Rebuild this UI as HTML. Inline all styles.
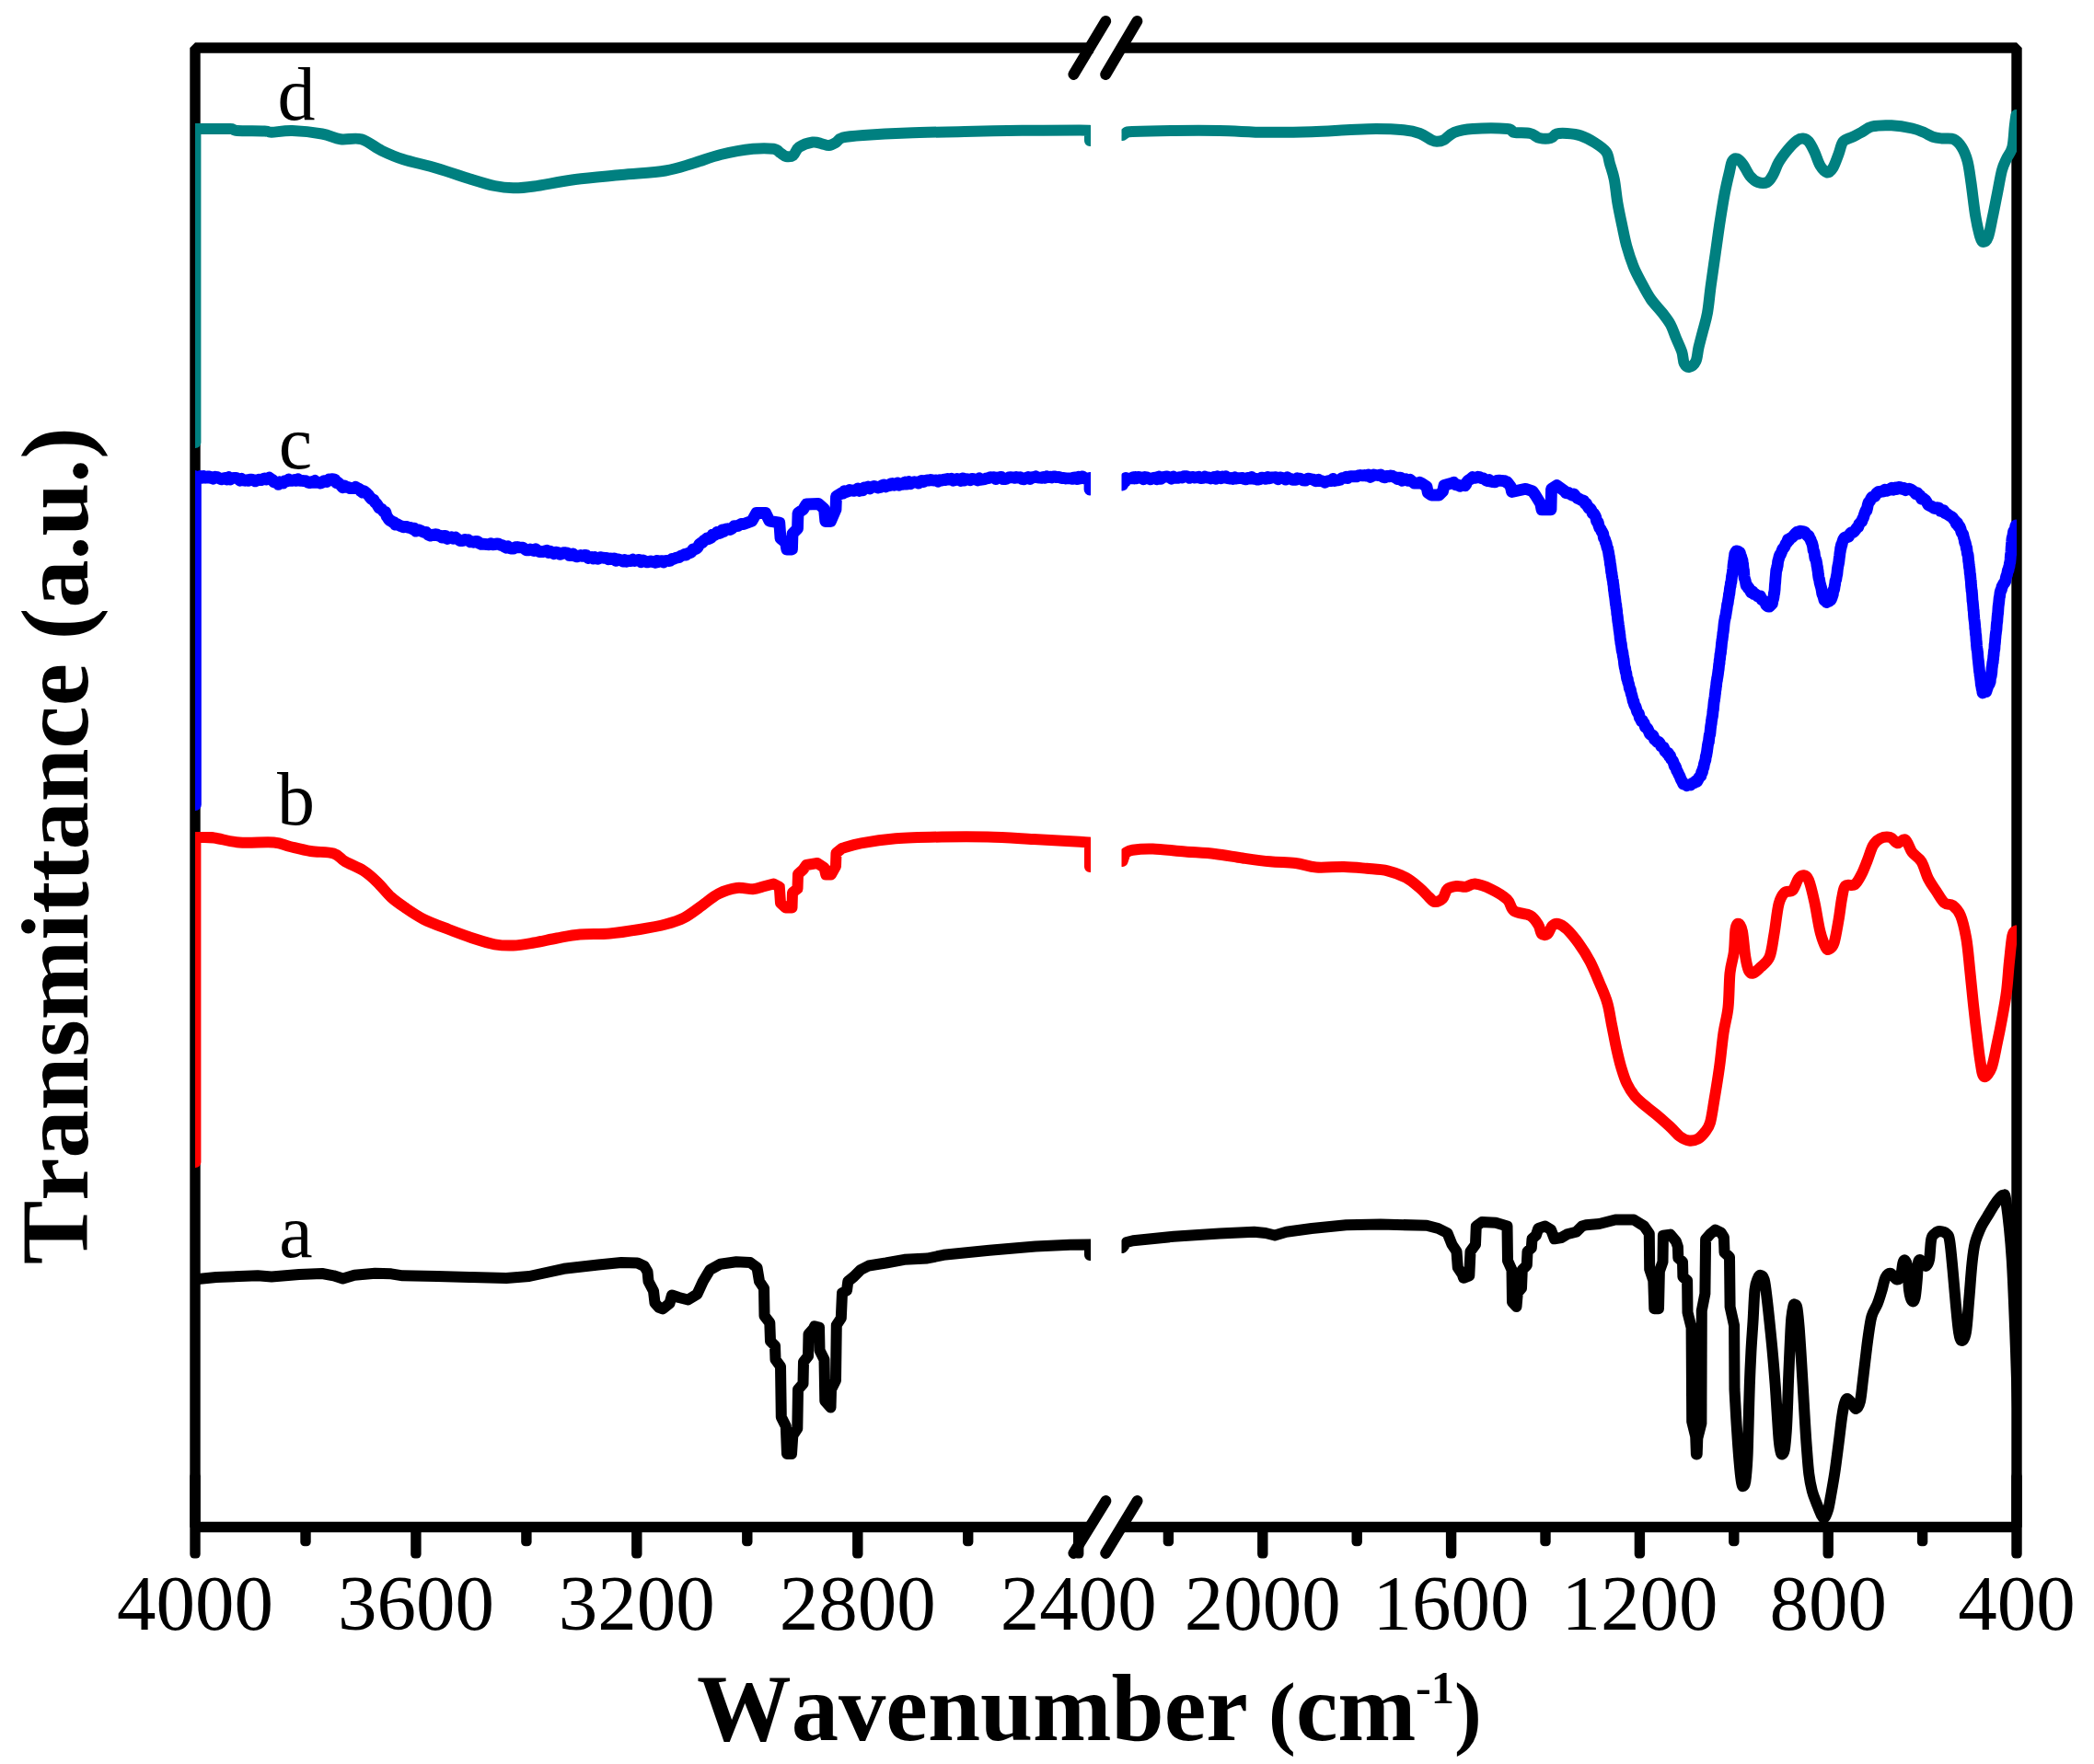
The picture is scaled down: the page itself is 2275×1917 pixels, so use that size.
<!DOCTYPE html>
<html lang="en"><head><meta charset="utf-8"><title>FTIR spectra</title>
<style>html,body{margin:0;padding:0;background:#fff}body{width:2275px;height:1917px;overflow:hidden}svg{display:block}</style>
</head><body>
<svg width="2275" height="1917" viewBox="0 0 2275 1917">
<defs>
<clipPath id="cl"><rect x="212.0" y="0" width="973.0" height="1917"/></clipPath>
<clipPath id="cr"><rect x="1218.5" y="0" width="972.5" height="1917"/></clipPath>
</defs>
<rect width="2275" height="1917" fill="#ffffff"/>
<g fill="none" stroke="#000" stroke-width="11.4" stroke-linecap="butt" stroke-linejoin="bevel">
<path d="M1188 52.0 L212.0 52.0 L212.0 1659.5 L1184 1659.5"/>
<path d="M1216 52.0 L2191.0 52.0 L2191.0 1659.5 L1218 1659.5"/>
</g>
<g fill="#000"><rect x="206.3" y="1600" width="11.4" height="93.6" rx="4.5" ry="4.5"/><rect x="446.2" y="1655.3" width="11.4" height="38.3" rx="4.5" ry="4.5"/><rect x="686.1" y="1655.3" width="11.4" height="38.3" rx="4.5" ry="4.5"/><rect x="926.1" y="1655.3" width="11.4" height="38.3" rx="4.5" ry="4.5"/><rect x="1166" y="1655.3" width="11.4" height="38.3" rx="4.5" ry="4.5"/><rect x="326.3" y="1655.3" width="11.4" height="24.9" rx="4.5" ry="4.5"/><rect x="566.2" y="1655.3" width="11.4" height="24.9" rx="4.5" ry="4.5"/><rect x="806.1" y="1655.3" width="11.4" height="24.9" rx="4.5" ry="4.5"/><rect x="1046" y="1655.3" width="11.4" height="24.9" rx="4.5" ry="4.5"/><rect x="1366.1" y="1655.3" width="11.4" height="38.3" rx="4.5" ry="4.5"/><rect x="1570.9" y="1655.3" width="11.4" height="38.3" rx="4.5" ry="4.5"/><rect x="1775.7" y="1655.3" width="11.4" height="38.3" rx="4.5" ry="4.5"/><rect x="1980.5" y="1655.3" width="11.4" height="38.3" rx="4.5" ry="4.5"/><rect x="2185.3" y="1600" width="11.4" height="93.6" rx="4.5" ry="4.5"/><rect x="1263.7" y="1655.3" width="11.4" height="24.9" rx="4.5" ry="4.5"/><rect x="1468.5" y="1655.3" width="11.4" height="24.9" rx="4.5" ry="4.5"/><rect x="1673.3" y="1655.3" width="11.4" height="24.9" rx="4.5" ry="4.5"/><rect x="1878.1" y="1655.3" width="11.4" height="24.9" rx="4.5" ry="4.5"/><rect x="2082.9" y="1655.3" width="11.4" height="24.9" rx="4.5" ry="4.5"/></g>
<g fill="none" stroke="#000000" stroke-width="12.0" stroke-linejoin="round" stroke-linecap="round"><path d="M208 1391 L215 1390 L235 1388 L280 1386.3 L295 1387.5 L325 1385 L350 1384 L362.5 1386.3 L372.5 1389.5 L385 1385.8 L407.5 1383.8 L425 1384.3 L437.5 1386.3 L475 1387 L512.5 1388 L550 1389 L575 1387 L612.5 1378.8 L650 1374.5 L675 1372 L692.5 1372.5 L700 1376 L703.5 1382 L704.5 1392.5 L710 1403 L711.5 1416 L716 1421 L720 1422.5 L727.5 1416.3 L730 1407.5 L737.5 1410 L747.5 1412.5 L757.5 1406.3 L763.8 1392.5 L771.3 1380 L782.5 1373.8 L800 1371.3 L815 1372 L822.5 1377.5 L825 1392.5 L830 1400 L830.5 1430 L836.3 1437.5 L837 1457.5 L842 1462.5 L842.5 1477.5 L848 1485 L848.8 1540 L853.8 1550 L855 1580 L860 1580 L861.3 1560 L866.3 1552.5 L867 1510 L872.5 1503.8 L873 1480 L878 1473.8 L878.5 1450 L883.8 1443.8 L885 1441.3 L890 1442.5 L890.5 1467.5 L895.5 1477.5 L896.3 1522.5 L902.5 1529.5 L903 1510 L908 1500 L908.8 1440 L913.8 1432.5 L915 1405 L920 1402.5 L921.3 1392.5 L927.5 1387.5 L935 1380 L943.8 1375.5 L962.5 1372.5 L982.5 1368.8 L1007.5 1367.5 L1025 1363.8 L1075 1358.8 L1125 1354.5 L1162.5 1352.8 L1184 1352.4 L1184 1364" clip-path="url(#cl)"/><path d="M1219.5 1356 L1224 1350 L1231 1348.2 L1275 1343.8 L1325 1340.5 L1362.5 1338.8 L1375 1340 L1385 1342.5 L1397.5 1338.8 L1425 1335 L1462.5 1331.3 L1500 1330.5 L1550 1331.8 L1562.5 1335 L1572.5 1340 L1577.5 1352.5 L1582.5 1360 L1583.8 1377.5 L1588.8 1385 L1590 1388.8 L1596.3 1386.3 L1597.5 1360 L1603 1352.5 L1603.8 1332.5 L1610 1328 L1625 1328.8 L1637.5 1332.5 L1638 1370 L1642.5 1380 L1643 1415 L1647.5 1420 L1648.8 1405 L1653 1400 L1653.8 1380 L1658.8 1375 L1659.5 1360 L1663.8 1356.3 L1664.5 1346.3 L1668.8 1342.5 L1671.3 1335 L1678.8 1332.5 L1685 1336.3 L1688.8 1346.3 L1696.3 1345 L1702.5 1341.3 L1712.5 1338.8 L1718.8 1332.5 L1723 1331.3 L1737.5 1330 L1755 1325.5 L1775 1325.5 L1786.1 1332.4 L1791.8 1340.6 L1792.2 1379.4 L1796.3 1391.6 L1797.3 1422.2 L1802 1422.2 L1802.9 1381.4 L1806.5 1371.2 L1806.9 1342.7 L1814.7 1341.6 L1820.8 1348.8 L1822.9 1354.9 L1823.3 1367.1 L1828 1371.2 L1828.4 1387.6 L1833.1 1391.6 L1833.5 1426.3 L1837.6 1442.7 L1838.2 1544.7 L1842.2 1561 L1842.9 1580.4 L1843.7 1580.4 L1844.3 1563 L1848.4 1546.7 L1848.8 1424.3 L1852.4 1405.9 L1853.1 1346.7 L1858.6 1340.6 L1863.7 1336.5 L1869.8 1339.6 L1872.9 1344.7 L1873.5 1361 L1879 1366.1 L1879.6 1420.2 L1884.1 1440.6 L1884.5 1510C1884.9 1517.5 1886.1 1540.6 1887.1 1554.9C1888 1569.2 1889.3 1586.2 1890.2 1595.7C1891.1 1605.2 1891.6 1608.8 1892.2 1612C1892.8 1615.2 1893.2 1615.4 1893.9 1615.1C1894.6 1614.8 1895.5 1614.9 1896.3 1610C1897 1605.1 1897.9 1594.7 1898.4 1585.5C1898.9 1576.3 1899 1568.2 1899.4 1554.9C1899.8 1541.6 1900.3 1520.2 1900.8 1505.9C1901.3 1491.6 1901.8 1480.8 1902.4 1469.2C1903 1457.6 1903.8 1447.7 1904.5 1436.5C1905.2 1425.3 1905.7 1409.6 1906.5 1401.8C1907.3 1394 1908.6 1392.2 1909.6 1389.6C1910.6 1386.9 1911.5 1385.7 1912.7 1385.9C1913.9 1386.1 1915.5 1386.2 1916.7 1390.6C1917.9 1394.9 1918.8 1403.7 1919.8 1412C1920.8 1420.3 1921.9 1430.7 1922.9 1440.6C1923.9 1450.5 1925 1460.7 1925.9 1471.2C1926.9 1481.8 1927.8 1493.4 1928.6 1503.9C1929.4 1514.5 1929.9 1524.3 1930.6 1534.5C1931.3 1544.7 1932 1558 1932.7 1565.1C1933.4 1572.2 1933.9 1574.8 1934.5 1577.3C1935.1 1579.8 1935.4 1580.7 1936.1 1580.4C1936.8 1580.1 1938 1579.5 1938.8 1575.3C1939.6 1571 1940.2 1563.4 1940.8 1554.9C1941.4 1546.4 1941.8 1534.5 1942.2 1524.3C1942.6 1514.1 1942.8 1504.9 1943.3 1493.7C1943.8 1482.5 1944.4 1467.1 1944.9 1456.9C1945.4 1446.7 1945.7 1438.7 1946.3 1432.4C1946.9 1426.1 1947.8 1421.7 1948.4 1419.2C1949 1416.7 1949.1 1417.3 1949.8 1417.6C1950.5 1417.9 1951.6 1417.4 1952.4 1421.2C1953.2 1425 1953.8 1432.6 1954.5 1440.6C1955.2 1448.6 1955.8 1458.7 1956.5 1469.2C1957.2 1479.8 1957.9 1492.3 1958.6 1503.9C1959.3 1515.5 1959.9 1527.4 1960.6 1538.6C1961.3 1549.8 1961.9 1560.7 1962.7 1571.2C1963.5 1581.7 1964.3 1593.6 1965.3 1601.8C1966.3 1610 1967.4 1614.8 1968.8 1620.2C1970.2 1625.7 1972.2 1630.1 1973.9 1634.5C1975.6 1638.9 1977.6 1644.2 1979 1646.7C1980.4 1649.2 1981 1650.5 1982.2 1649.5C1983.4 1648.5 1985 1644.3 1986.1 1640.6C1987.2 1636.9 1987.6 1633.8 1988.8 1627.1C1990 1620.4 1991.8 1610.5 1993.3 1600.6C1994.8 1590.6 1996.4 1577.4 1997.7 1567.4C1999 1557.5 2000 1547.9 2001 1540.9C2002 1533.9 2002.9 1528.9 2003.9 1525.4C2004.9 1521.9 2005.6 1519.9 2007 1519.9C2008.4 1519.9 2010.5 1523.6 2012.1 1525.4C2013.7 1527.2 2015 1531.3 2016.5 1530.9C2018 1530.5 2019.7 1528.2 2020.9 1523.2C2022.1 1518.2 2022.9 1508.5 2023.8 1501.1C2024.7 1493.7 2025.4 1487.1 2026.4 1479C2027.4 1470.9 2028.5 1460.6 2029.7 1452.5C2030.9 1444.4 2031.8 1436.2 2033.5 1430.3C2035.2 1424.4 2037.9 1421.5 2039.7 1417.1C2041.5 1412.7 2042.6 1408.6 2044.1 1403.8C2045.6 1399 2046.8 1391.6 2048.5 1388.3C2050.2 1385 2052.1 1383.5 2054.1 1383.9C2056.1 1384.3 2058.9 1390.1 2060.7 1390.5C2062.5 1390.9 2064 1389 2065.1 1386.1C2066.2 1383.2 2066.6 1375.7 2067.3 1372.9C2068 1370.1 2068.7 1368.8 2069.5 1369.5C2070.3 1370.2 2071.7 1372 2072.4 1377.3C2073.2 1382.6 2073.2 1395.5 2074 1401.6C2074.8 1407.7 2076.2 1412.3 2077.3 1413.8C2078.4 1415.3 2079.7 1414.3 2080.6 1410.4C2081.5 1406.5 2082.2 1396.8 2082.8 1390.5C2083.4 1384.2 2083.4 1376.5 2083.9 1372.9C2084.4 1369.3 2085.2 1368.9 2086.1 1369.1C2087 1369.3 2088.3 1372.9 2089.4 1374C2090.5 1375.1 2091.7 1376.4 2092.8 1375.5C2093.9 1374.6 2095.2 1373.3 2096.1 1368.4C2097 1363.5 2097.2 1351 2098.3 1346.3C2099.4 1341.6 2101.2 1341.5 2102.7 1340.1C2104.2 1338.7 2105.1 1338 2107.1 1338.1C2109.1 1338.2 2113.1 1339.1 2114.9 1340.8C2116.8 1342.5 2117.1 1342 2118.2 1348.5C2119.3 1355 2120.4 1368.1 2121.5 1379.5C2122.6 1390.9 2123.7 1405.7 2124.8 1417.1C2125.9 1428.5 2127 1441.4 2128.1 1448C2129.2 1454.6 2130.1 1456.9 2131.4 1456.9C2132.7 1456.9 2134.6 1455.4 2135.9 1448C2137.2 1440.6 2138.1 1425.2 2139.2 1412.7C2140.3 1400.2 2141.4 1383.2 2142.5 1372.9C2143.6 1362.6 2144.1 1357.4 2145.8 1350.8C2147.5 1344.2 2150.3 1337.9 2152.5 1333.1C2154.7 1328.3 2156.9 1325.7 2159.1 1322C2161.3 1318.3 2163.7 1314.1 2165.7 1311C2167.7 1307.9 2169.4 1305.2 2171.2 1303.2C2173 1301.2 2174.9 1298.3 2176.3 1298.8C2177.7 1299.3 2177.9 1294.5 2179.5 1306C2181.1 1317.5 2183.9 1341 2185.7 1368C2187.4 1395 2188.6 1429.3 2190 1468C2191.4 1506.7 2193 1564.7 2194 1600C2195 1635.3 2195.7 1666.7 2196 1680" clip-path="url(#cr)"/></g><g fill="none" stroke="#ff0000" stroke-width="12.0" stroke-linejoin="round" stroke-linecap="round"><path d="M212.4 1263 L212.4 910 L230 910" clip-path="url(#cl)" /><path d="M205 910C206.7 910 210.4 909.9 215 910C219.6 910.1 225 909.6 232.5 910.5C240 911.4 249.2 914.7 260 915.5C270.8 916.3 288.3 914.8 297.5 915.5C306.7 916.2 308.3 918.4 315 920C321.7 921.6 329.6 923.8 337.5 925C345.4 926.2 356.2 925.6 362.5 927.5C368.8 929.4 369.6 933.2 375 936.3C380.4 939.4 389.2 942.5 395 946.3C400.8 950 405 954 410 958.8C415 963.6 420 970.4 425 975C430 979.6 434.2 982.3 440 986.3C445.8 990.3 452.1 994.8 460 998.8C467.9 1002.8 478.3 1006.5 487.5 1010C496.7 1013.5 506.7 1017.3 515 1020C523.3 1022.7 530.4 1025 537.5 1026.3C544.6 1027.5 550.4 1027.8 557.5 1027.5C564.6 1027.2 572.1 1025.8 580 1024.5C587.9 1023.2 596.7 1021 605 1019.5C613.3 1018 620.4 1016.3 630 1015.5C639.6 1014.7 651.7 1015.4 662.5 1014.5C673.3 1013.6 684.9 1011.7 695 1010C705.1 1008.3 715 1006.6 723 1004.5C731 1002.4 736.3 1001 743 997.5C749.7 994 756.8 988.2 763 983.8C769.2 979.4 774.2 974.4 780.5 971.3C786.8 968.2 794.2 965.8 800.5 965C806.8 964.2 813.4 966.5 818 966.3C822.6 966.1 826.3 964.2 828 963.8L840.5 960.5L846.8 963.8L848 981.3L853.5 986.5L860.5 986.5L861 970L866.5 965.8L867 950L872.5 945L876 940L888 938L895.5 943L897.3 950.5L903 950.5L908 941.3L908.5 927L915 921.8C918.4 920.9 925.8 918 935.5 916.3C945.2 914.5 958.4 912.4 973 911.3C987.6 910.2 1006.3 909.8 1023 909.5C1039.7 909.2 1056.3 909.1 1073 909.5C1089.7 909.9 1106.3 911.1 1123 912C1139.7 912.9 1162.8 914.2 1173 914.8C1183.2 915.4 1182.2 915.5 1184 915.6C1184 920 1184 937.6 1184 942" clip-path="url(#cl)"/><path d="M1219.5 936C1220 934.5 1222 928.5 1222.5 927C1223.8 926.5 1225.5 924.5 1230.5 923.8C1235.5 923 1243 922.2 1252.5 922.5C1262 922.8 1276.2 924.6 1287.5 925.5C1298.8 926.4 1309.6 926.8 1320 928C1330.4 929.2 1340 931.1 1350 932.5C1360 933.9 1370.4 935.4 1380 936.3C1389.6 937.2 1399.2 937 1407.5 938C1415.8 939 1421.2 941.8 1430 942.5C1438.8 943.2 1450.8 941.8 1460 942C1469.2 942.2 1477.1 943.1 1485 943.8C1492.9 944.5 1500.4 944.6 1507.5 946.3C1514.6 948 1521.7 950.7 1527.5 953.8C1533.3 956.9 1538.3 961.5 1542.5 965C1546.7 968.5 1549.8 972.5 1552.5 975C1555.2 977.5 1556.3 979.8 1558.8 980C1561.3 980.2 1565.2 978.6 1567.5 976.3C1569.8 974 1570 968.5 1572.5 966.3C1575 964.1 1579.2 963.4 1582.5 963C1585.8 962.6 1589.2 964.2 1592.5 963.8C1595.8 963.4 1597.9 960.1 1602.5 960.5C1607.1 960.9 1614.2 963.5 1620 966.3C1625.8 969.1 1633.3 973.5 1637.5 977.5C1641.7 981.5 1640.8 987.1 1645 990C1649.2 992.9 1658.1 992.5 1662.5 995C1666.9 997.5 1669.2 1001.7 1671.3 1005C1673.4 1008.3 1673.3 1013.3 1675 1015C1676.7 1016.7 1679.4 1016.5 1681.3 1015C1683.2 1013.5 1684.4 1008.2 1686.3 1006.3C1688.2 1004.4 1689.8 1003.2 1692.5 1003.8C1695.2 1004.4 1698.8 1006.5 1702.5 1010C1706.2 1013.5 1710.8 1019.2 1715 1025C1719.2 1030.8 1723.8 1037.9 1727.5 1045C1731.2 1052.1 1734.4 1060 1737.5 1067.5C1740.6 1075 1744 1082.1 1746.3 1090C1748.6 1097.9 1749.6 1106.7 1751.3 1115C1753 1123.3 1754.6 1132.5 1756.3 1140C1758 1147.5 1759.4 1153.8 1761.3 1160C1763.2 1166.2 1765 1172.3 1767.5 1177.5C1770 1182.7 1772.5 1186.9 1776.3 1191.3C1780 1195.7 1785.6 1200 1790 1203.8C1794.4 1207.5 1798.3 1210.3 1802.5 1213.8C1806.7 1217.3 1811.2 1221.5 1815 1225C1818.8 1228.5 1821.7 1232.6 1825 1235C1828.3 1237.4 1831.7 1239.1 1835 1239.5C1838.3 1239.9 1842.1 1239.1 1845 1237.5C1847.9 1235.9 1850.3 1232.9 1852.5 1230C1854.7 1227.1 1856.3 1225.8 1858 1220C1859.7 1214.2 1860.8 1205 1862.5 1195C1864.2 1185 1866.3 1172.1 1868 1160C1869.7 1147.9 1870.9 1133.3 1872.5 1122.5C1874.1 1111.7 1876.3 1105.8 1877.5 1095C1878.7 1084.2 1878.5 1067.5 1879.5 1057.5C1880.5 1047.5 1882.8 1042.9 1883.8 1035C1884.8 1027.1 1884.7 1015.2 1885.5 1010C1886.3 1004.8 1887.5 1003.4 1888.8 1003.8C1890 1004.2 1891.8 1006.5 1893 1012.5C1894.2 1018.5 1895.1 1032.9 1896.3 1040C1897.5 1047.1 1898.5 1052.1 1900 1055C1901.5 1057.9 1902.9 1058.1 1905 1057.5C1907.1 1056.9 1909.6 1054.2 1912.5 1051.3C1915.4 1048.4 1920 1046 1922.5 1040C1925 1034 1925.8 1024.6 1927.5 1015C1929.2 1005.4 1930.6 990 1932.5 982.5C1934.4 975 1936.3 972.5 1938.8 970C1941.3 967.5 1945 970 1947.5 967.5C1950 965 1951.8 957.7 1953.8 955C1955.8 952.3 1957.6 951.1 1959.5 951.3C1961.4 951.5 1963 951.5 1965 956.3C1967 961.1 1969.2 970.6 1971.3 980C1973.4 989.4 1975.4 1004.2 1977.5 1012.5C1979.6 1020.8 1982.1 1026.9 1983.8 1030C1985.5 1033.1 1986 1032.1 1987.5 1031.3C1989 1030.5 1990.8 1030.2 1992.5 1025C1994.2 1019.8 1996 1008.3 1997.5 1000C1999 991.7 2000 981.2 2001.3 975C2002.5 968.8 2002.7 964.8 2005 962.5C2007.3 960.2 2012.1 963.4 2015 961.3C2017.9 959.2 2020.2 954.4 2022.5 950C2024.8 945.6 2026.7 940.2 2028.8 935C2030.9 929.8 2032.7 922.8 2035 918.8C2037.3 914.8 2039.4 912.8 2042.5 911.3C2045.6 909.8 2050.7 909.2 2053.8 910C2056.9 910.8 2058.6 915.9 2061.3 916.3C2064 916.7 2067.3 910.8 2070 912.5C2072.7 914.2 2074.6 922.3 2077.5 926.3C2080.4 930.3 2084.6 931.5 2087.5 936.3C2090.4 941.1 2092.3 949.6 2095 955C2097.7 960.4 2100.9 964.4 2103.8 968.8C2106.7 973.2 2109.6 978.8 2112.5 981.3C2115.4 983.8 2118.4 981.5 2121.3 983.8C2124.2 986.1 2127.5 989 2130 995C2132.5 1001 2134.6 1010.4 2136.3 1020C2138 1029.6 2138.8 1040.8 2140 1052.5C2141.2 1064.2 2142.6 1078.3 2143.8 1090C2145.1 1101.7 2146.2 1112.1 2147.5 1122.5C2148.8 1132.9 2150 1144.6 2151.3 1152.5C2152.6 1160.4 2153.4 1168.8 2155.5 1170C2157.6 1171.2 2161.4 1166.2 2163.8 1160C2166.2 1153.8 2168.1 1141.2 2170 1132.5C2171.9 1123.8 2173.3 1116.7 2175 1107.5C2176.7 1098.3 2178.7 1087.9 2180 1077.5C2181.3 1067.1 2181.9 1055.1 2183 1045C2184.1 1034.9 2185.1 1022.6 2186.3 1017C2187.5 1011.4 2189.6 1012.4 2190.3 1011.5" clip-path="url(#cr)"/></g><g fill="none" stroke="#0000ff" stroke-width="12.8" stroke-linejoin="round" stroke-linecap="round"><path d="M212.4 874.5 L212.4 519 L230 519" clip-path="url(#cl)" /><path d="M205 518.8L206 518.3L207.1 517.7L208.7 519.2L211.2 517.4L215 518.9L216.3 518.4L217.8 517.5L219.5 518.9L221.3 517.6L223.2 518.8L225.2 517.8L227.3 517.9L229.4 519L231.6 520.2L233.8 518.2L236 518.6L238.1 519.8L240.3 520.9L242.4 519.9L244.5 519.4L246.4 521.2L248.3 518.5L250 521.1L252.3 519.5L254.5 519.3L256.6 519.4L258.7 520.3L260.7 522L262.6 520.4L264.5 521.9L266.4 522.3L268.2 521.7L269.9 522.4L271.7 521.1L273.4 521.1L275 521.6L277.3 522.9L279.5 521.9L281.7 521.2L283.7 521.6L285.6 520.7L287.5 519.9L289.3 521L290.9 520.6L292.5 519.2L294.5 520.7L296.1 521.5L297.5 523.7L298.9 524.4L300.5 523.9L302.5 526.4L304.1 523.8L305.8 524.4L307.7 525L309.6 522.6L311.6 523L313.7 521L315.8 522.4L317.9 522.3L320 521.5L321.9 522.4L323.9 520.9L326 522.3L328.1 522.3L330.2 522.6L332.2 522.6L334.3 524.1L336.3 524.7L338.2 523.6L340 524.3L342.2 522.5L344.3 524.4L346.3 524.2L348.3 525.1L350.1 524.4L351.9 522.6L353.5 522.8L355 523.5L357.3 521.1L359.1 521.9L360.6 520.7L362.5 520.9L364 521.4L365.5 524.7L367.1 524.2L368.8 525.9L370.6 527.6L372.5 529.9L374.3 528L376.2 529.2L378.3 529.6L380.4 530.6L382.4 530.4L384.4 530.7L386.3 529.3L388.3 530.5L390.3 531.2L392.1 533.8L394 535.1L395.7 533.9L397.5 535.3L399 536.7L400.4 538.1L401.9 540.3L403.3 542.1L404.7 542.6L406.1 543.4L407.5 546.1L409 547.3L410.4 549.4L411.9 551.9L413.4 552.6L414.8 553.5L416.2 555.2L417.5 556.8L418.9 556.7L420.1 561L421.2 562.4L422.4 564.4L423.6 565.7L425 566L426.5 567.3L428 567.6L429.5 570.2L431.2 569.5L433 570.4L435 571.6L436.6 572L438.3 572.9L440 572.4L441.9 572.5L443.8 573.3L445.8 573.4L447.9 574.6L450 574.1L451.8 577.1L453.5 576.8L455.3 576L457.2 576.9L459.1 577.8L461 578.5L463.1 578.4L465.3 581.2L467.6 582.2L470 581.2L471.7 581.6L473.3 580.7L475 581.1L476.8 582.2L478.5 582.2L480.3 584.2L482.2 582.5L484.1 582.4L486.1 585.5L488.1 584.6L490.3 583.7L492.6 585.3L494.9 584.1L497.4 586L500 587.7L501.6 587.6L503.3 587.4L505.1 586.4L506.9 587L508.7 586.7L510.6 588.8L512.5 588.4L514.5 589.4L516.5 588.4L518.6 588.4L520.6 590.4L522.7 591.3L524.8 591.2L526.9 591.4L529 591.7L531.2 591.8L533.3 590.6L535.4 591.8L537.6 591.6L539.7 590.9L541.8 591.2L543.9 592.3L545.9 592.5L548 594.1L550 595.2L552 593.9L554 595.7L556 596.1L558 596.2L560 594.7L562 594.5L564 594.8L566 595L568 595.2L570 596.7L572 597.8L574 597.9L576 597L578 597.8L580 598.5L582 596.6L584 598.5L586 599.5L588 599.4L590 599.5L592 599L594 598.3L596 600.4L598 599.2L600 600.9L602 601.7L604 600.2L606.1 600.5L608.1 602.4L610.2 602L612.3 600.6L614.4 600.7L616.4 601.1L618.5 603.6L620.6 603.6L622.7 601.9L624.7 604.2L626.8 604.9L628.9 604.2L630.9 603.5L632.9 604.4L634.9 603.4L636.9 603.3L638.9 606.4L640.8 605.7L642.7 605.5L644.6 607L646.4 605.7L648.2 607.2L650 607.3L652.3 605.7L654.5 606L656.7 606.4L658.9 606.4L661 607.7L663.1 606.9L665.2 607.6L667.2 606.9L669.2 609.4L671.1 607.9L673.1 608.3L675 608.9L676.8 610L678.7 608.7L680.5 610.3L682.3 609.2L684 609.4L685.8 609.5L687.5 608.1L689.8 609.5L692.1 608.8L694.4 608.4L696.7 610.9L698.9 609.1L701 610.1L703.1 610.9L705.1 610.5L707 609.9L708.9 610.5L710.6 610.6L712.2 611.3L713.7 609.3L715 610.7L718.2 609.7L719.8 609.7L721 610.9L723 609.5L724.5 609.3L726.3 609.5L728.1 609.4L730.1 607.5L732.1 607.4L734.1 606.4L736.1 605.8L738 605.6L739.9 604.1L741.8 603.5L743.6 602.5L745.5 603L747.4 601.3L749.2 600.8L751.1 600L753 596.8L754.7 596.6L756.3 596.5L758 595L759.7 591.6L761.3 590.2L763 589.8L764.7 587.4L766.3 586.7L768 585L769.6 585.7L771.1 585L772.6 584.4L774.1 581.1L775.6 581.9L777.3 580.8L779 578.3L780.9 579.6L783 578.9L784.7 576L786.5 577.5L788.6 575.1L790.8 574.7L793 575.5L795.3 574.3L797.6 571.6L799.8 571.8L801.8 571.4L803.7 570.3L805.4 569.4L806.9 569.3L808 569.5L816.8 566.3L821.8 557.5L831.8 557.5L836 566.3L846.8 568L848 585L853.5 589.5L854.8 597L860.5 597L861 580L866.5 574.5L867 557.5L872.5 553.8L876 548L889.3 547.5L895.5 553L896.8 566.5L902.5 566.5L908 553.8L908.5 539.5L915 535.5L916.1 535.9L917.4 533.6L919 534.8L920.9 534.1L922.9 532.4L925.2 532.9L927.8 533.3L930.5 532.5L932.1 530.9L933.7 533.4L935.5 532.6L937.3 532.8L939.1 529.9L941.1 530.1L943.1 529.1L945.2 531L947.3 529.2L949.4 528.4L951.6 529L953.8 530.1L956 529.6L958.3 527.6L960.5 526.9L962.3 529L964.1 527.8L965.9 527.9L967.7 525.8L969.5 525.5L971.4 527.2L973.2 526.1L975.1 524.9L977 527.2L979 526.1L980.9 526.4L982.9 524L985 526.1L987 523.5L989.2 525.7L991.3 524.2L993.5 523.7L995.7 524.1L998 525.1L999.8 523L1001.6 522.4L1003.4 523.5L1005.3 522.5L1007.2 522L1009.1 522L1011.1 521.5L1013.1 521.9L1015.1 522.1L1017.1 521.9L1019.1 523.2L1021.2 521.7L1023.3 522.2L1025.3 521.1L1027.4 521.5L1029.5 520.4L1031.6 521L1033.6 520.2L1035.7 522.3L1037.8 521.6L1039.9 520.4L1041.9 521.2L1044 522.5L1046 519.9L1048 522L1050 520.7L1052 520.8L1054 521.8L1056 520.4L1058 520.6L1060 521.1L1062 521.9L1064 519.9L1066 521.3L1068 520.9L1070 520.6L1072 519.8L1074 519.6L1076 518.7L1078 518.8L1080 518.6L1082 520.6L1084 519.1L1086 518.7L1088 518.4L1090 520.7L1092 520.7L1094 520.1L1096 518.9L1098 518.7L1100 518.8L1102.1 519.3L1104.1 518.4L1106.2 519.2L1108.4 518.7L1110.5 520.7L1112.6 520.8L1114.8 519.5L1116.9 518.6L1119.1 520.7L1121.2 518.7L1123.3 518.9L1125.4 517.8L1127.5 518.9L1129.6 519.2L1131.6 519.3L1133.6 518.4L1135.6 519.3L1137.5 517.8L1139.4 518.6L1141.2 518.1L1143 519L1144.7 517.9L1146.4 517.9L1148 518.7L1150.7 518.5L1153.3 519.5L1155.8 519.4L1158.2 520L1160.4 519.8L1162.6 519.9L1164.6 520.4L1166.6 519L1168.4 518.8L1170.1 520.7L1171.7 518.2L1173.2 520L1174.7 519.7L1176 517.9L1179.6 520.3L1181.8 520.5L1183 519.8L1184 519.4L1184 521.6L1184 524.1L1184 524.6L1184 528.3L1184 530.5L1184 532" clip-path="url(#cl)"/><path d="M1219.5 527L1220.4 525.3L1221.8 523L1223.1 522.7L1224 521L1223.2 519.5L1223 520.5L1230 519.6L1231.1 518.6L1232.4 520L1233.8 518.5L1235.2 519.7L1236.8 518.5L1238.5 518.6L1240.2 519.5L1242.1 520.7L1244 518.5L1245.9 518.8L1247.9 520L1250 520.9L1252.2 519.7L1254.4 519.1L1256.6 520.8L1258.8 518L1261.1 520.4L1263.4 518.6L1265.7 518.2L1268 518L1270.4 518.6L1272.7 520.1L1275 518.1L1277.3 519.3L1279.6 519.4L1281.8 518.6L1284.1 519.1L1286.3 517.6L1288.4 517.6L1290.5 518L1292.5 519.4L1294.5 518.6L1296.4 518.3L1298.2 519.1L1300 518.7L1302.4 518.2L1304.6 519.7L1306.9 519.4L1309 518L1311.1 519L1313.1 518.9L1315.1 520L1317 519.6L1319 518.3L1320.8 520.4L1322.7 517.8L1324.5 518.7L1326.4 519.8L1328.2 518L1330.1 519.1L1331.9 517.8L1333.8 519.7L1335.7 520L1337.6 519.5L1339.5 520.4L1341.5 518.8L1343.5 520L1345.6 519.7L1347.8 519.7L1350 519.4L1351.8 520.5L1353.8 520.9L1355.7 519.5L1357.7 520.1L1359.8 518.3L1361.9 520.3L1364 520.1L1366.2 521.2L1368.4 520.7L1370.6 519.1L1372.8 519.4L1375 520.3L1377.2 518.4L1379.5 519.7L1381.7 518.9L1383.9 518.8L1386.1 518.6L1388.3 520.8L1390.5 518.9L1392.6 519.3L1394.7 519.7L1396.7 521.2L1398.7 518.9L1400.7 520L1402.6 520.4L1404.4 521.4L1406.2 521.3L1407.9 521.4L1409.5 519.7L1411 520.2L1412.5 520.1L1415.7 521.8L1418.4 522.2L1420.8 520.1L1423 520.4L1424.8 520.8L1426.5 521.1L1428.1 522.1L1429.6 522.7L1431 521.9L1432.5 521.3L1434 522.7L1435.7 522.6L1437.5 523.2L1439.4 524.3L1441.2 523.4L1443 522.6L1444.8 522.7L1446.5 522.6L1448.3 520.4L1450.1 522.6L1452 521.9L1453.9 521.8L1455.9 521.3L1458 519.7L1460.2 519.4L1462.5 518.3L1464.2 519.7L1466 517.8L1467.9 517.7L1469.8 517.9L1471.8 517.6L1473.8 517.9L1475.9 516.9L1478 516.5L1480.2 516.8L1482.3 516.5L1484.5 517.1L1486.6 516L1488.7 518.4L1490.7 517.5L1492.7 516L1494.6 516.3L1496.5 516.5L1498.3 516.6L1500 515.9L1502.3 518.2L1504.6 518.8L1506.7 517.4L1508.8 517.8L1510.8 516.9L1512.7 517.3L1514.5 518.5L1516.3 518.6L1518.1 520.7L1519.8 519.2L1521.6 519.1L1523.3 522.3L1525 521.4L1527.3 520.7L1529.6 522.3L1532 521.3L1534.3 523.3L1536.6 525.1L1538.7 525.2L1540.6 525.1L1542.4 524.2L1543.8 524.9L1545 525.5L1550 528.8L1551.3 535.5L1555 538L1563.5 538L1567.5 534L1569 527.3L1578 524.8L1579.4 524.3L1581.4 526.8L1583.7 526.9L1586.1 528.4L1588.3 527.5L1590 527.2L1591.7 527.8L1592.8 526.4L1593.7 523.9L1595 522.2L1596.5 521.3L1598 520.4L1599.9 518.5L1602.5 519.4L1604 519L1605.7 518.2L1607.6 518.5L1609.6 519.6L1611.7 519.9L1613.8 521.6L1615.9 522.7L1618 521.6L1620 523.3L1622 523.7L1624.2 523.9L1626.5 522.3L1628.7 522.1L1630.9 522.4L1633 522.5L1634.8 522.7L1636.3 524.1L1637.5 523.8L1641.3 528.8L1642.5 534.5L1657.5 531.3L1665 533.8L1668 538L1673.8 547.5L1675 553.8L1685 553.8L1685.5 531.3L1691.3 527.5L1700 533.8L1701.1 535.5L1702.5 535.9L1704.1 535.5L1706 536.9L1708 538.2L1710 537L1712.1 539.7L1714 541.5L1715.9 542.2L1717.5 543.3L1719.1 543.7L1720.7 544.1L1722.1 547.3L1723.5 547.4L1724.9 550.3L1726.2 552.4L1727.5 552.3L1728.7 554.1L1730 557.6L1730.9 558.5L1731.9 558.5L1732.8 560L1733.7 561.9L1734.5 566L1735.4 567.6L1736.2 567.5L1737 571.4L1737.8 573.7L1738.6 574.6L1739.3 575.4L1740 577.6L1740.9 578.4L1741.7 579.9L1742.4 584.6L1743.1 585.3L1743.8 586.6L1744.4 589.7L1745.1 590.1L1745.7 593.6L1746.3 596L1746.7 595.8L1747 597.6L1747.4 599.5L1747.7 601.1L1748.1 604.1L1748.4 605L1748.7 607.5L1749 608.7L1749.4 613.1L1749.7 613.5L1750 616L1750.3 618.6L1750.6 621.7L1751 622.5L1751.3 626.3L1751.6 626.8L1751.8 628.7L1752.1 630.6L1752.4 631L1752.6 634.2L1752.9 635.3L1753.1 636.8L1753.4 641.2L1753.7 641.3L1753.9 644.2L1754.2 647L1754.5 648.5L1754.7 649.9L1755 652.5L1755.2 654.6L1755.5 657.4L1755.8 657.3L1756 660.7L1756.3 661.7L1756.6 663.8L1756.8 667.3L1757.1 668.5L1757.4 670.7L1757.6 673.3L1757.9 675.8L1758.1 676.5L1758.4 679L1758.7 680.7L1758.9 682.8L1759.2 685.3L1759.5 686.6L1759.7 688.8L1760 690.6L1760.2 693.9L1760.5 695.1L1760.8 697.5L1761 699.5L1761.3 699.3L1761.6 702.4L1762 705.8L1762.3 707.7L1762.6 707.7L1763 709.8L1763.3 712.8L1763.6 713.8L1764 716.3L1764.3 717.8L1764.6 721.5L1765 723.8L1765.3 726L1765.6 725.5L1766 729L1766.3 730.5L1766.8 731.3L1767.3 735.8L1767.8 738.2L1768.3 738L1768.8 742.1L1769.3 742.4L1769.8 744.5L1770.3 747.8L1770.8 749.1L1771.3 749L1771.8 751.8L1772.3 754.1L1772.8 755.4L1773.2 756.9L1773.7 759.1L1774.3 762.2L1774.9 762L1775.5 765.6L1776.3 767.3L1777 767.8L1777.8 770.5L1778.6 773.3L1779.5 774.8L1780.4 775.4L1781.4 780.1L1782.4 781.4L1783.4 783.8L1784.3 782.9L1785.3 785.2L1786.3 786.1L1787.5 790.2L1788.7 790.5L1789.9 791.8L1791.1 794.3L1792.4 797.4L1793.6 798.7L1794.9 798.6L1796.2 799.9L1797.5 803.8L1798.9 804.3L1800.3 806.3L1801.8 806.1L1803.2 807.5L1804.7 811L1806.2 811.7L1807.5 812.1L1808.8 816.2L1810 816.7L1811.3 818.9L1812.5 818.3L1813.6 822.2L1814.6 821.3L1815.6 825.2L1816.5 825.6L1817.5 827L1818.4 829.4L1819.2 832.4L1820 832.4L1820.8 834L1821.6 837.2L1822.3 838.3L1823.1 839.7L1823.8 841.5L1824.9 843.4L1825.8 845.9L1826.8 848L1827.7 849.5L1828.8 852.1L1830.7 852.2L1832.8 853.7L1835 852.8L1836.8 853L1838.7 851.2L1840.7 850.8L1842.5 848.5L1843.6 849.5L1844.7 847.6L1845.8 845.1L1846.8 844.2L1847.8 843.6L1848.8 838.8L1849.4 839.4L1849.9 836.5L1850.4 834.9L1850.9 834L1851.4 830.6L1851.9 828.9L1852.4 827.2L1852.9 825.9L1853.3 821.8L1853.8 821L1854.1 818.9L1854.5 817L1854.8 814.5L1855.1 812.6L1855.4 810L1855.7 808.4L1856.1 806.4L1856.4 806.5L1856.7 803L1857 800.7L1857.3 798.3L1857.7 798.4L1858 796.1L1858.2 793.8L1858.5 790.9L1858.7 789L1859 787.3L1859.3 785.9L1859.5 783.1L1859.8 781.9L1860 779.4L1860.3 779.4L1860.6 777.4L1860.9 774.1L1861.1 771.1L1861.4 771.2L1861.7 767.1L1861.9 765.2L1862.2 762.1L1862.5 761.2L1862.7 759.4L1863 757.5L1863.3 754.6L1863.5 753.6L1863.8 750.1L1864.1 748.9L1864.3 746.5L1864.6 745.4L1864.8 742.4L1865.1 740.4L1865.4 739.3L1865.6 737.1L1865.9 736.2L1866.2 734.1L1866.4 732.8L1866.7 730.5L1866.9 728.7L1867.2 727.2L1867.5 723.7L1867.7 721.5L1868 721.5L1868.2 717L1868.5 716.8L1868.7 714.5L1869 710.7L1869.2 711.1L1869.5 709.2L1869.7 706.4L1870 704.6L1870.2 702.8L1870.5 698.8L1870.7 697.9L1870.9 695.8L1871.2 694.7L1871.4 692.6L1871.7 690.7L1871.9 688L1872.2 686.9L1872.5 684.4L1872.7 682.5L1873 679.2L1873.3 676.5L1873.6 674.7L1873.9 673.3L1874.3 670.5L1874.6 670.6L1875 667.8L1875.3 665.9L1875.6 663.9L1876 662.1L1876.3 659.6L1876.7 656.2L1877 656.6L1877.3 654.6L1877.6 652L1877.9 650.3L1878.2 648.9L1878.5 645.4L1878.8 645.7L1879.2 642L1879.5 639.3L1879.8 637.7L1880.1 637L1880.4 633.4L1880.7 633.1L1881 631.9L1881.3 628.6L1881.5 626.5L1881.8 625L1882 623.9L1882.3 622.5L1882.5 620.4L1882.8 618.1L1883.1 614.1L1883.4 612L1883.6 610.2L1883.9 609.6L1884.1 606.4L1884.4 605.5L1884.7 602.3L1885 601.2L1886.2 599L1887.5 598.9L1888.8 599.4L1889.5 600.2L1890.2 600.4L1890.9 602.8L1891.7 604.8L1892.3 607.2L1893 608.9L1893.3 612.8L1893.6 612.7L1893.9 617.1L1894.1 619.2L1894.4 618.7L1894.7 622.4L1894.9 625.7L1895.2 628.4L1895.5 628.9L1895.9 630.2L1896.3 631.6L1897.1 636.3L1898 636L1899 638.8L1900 638.8L1901.2 641.3L1902.5 643.9L1904 642.6L1905.7 645.7L1907.5 645.8L1909.3 647.8L1911 648.3L1912.5 648L1914 651.7L1915.3 652.4L1916.6 653L1917.7 654.7L1918.8 657.5L1920.6 658.9L1922.3 659.2L1923.8 657.7L1924.4 657.3L1925 655.7L1925.5 655.6L1926.1 651L1926.6 651L1927 648.7L1927.5 643.9L1927.7 644.7L1927.9 642.4L1928.1 641.1L1928.3 637.3L1928.4 635.6L1928.6 633.6L1928.7 633.3L1928.9 630L1929.1 627.3L1929.3 625.4L1929.5 623L1929.7 620.4L1930 618.8L1930.4 618.8L1930.8 615L1931.2 614.8L1931.6 610.6L1932 608.7L1932.5 607.4L1933.1 604.5L1933.6 603.2L1934.3 603.1L1935 601.2L1935.9 599L1936.8 596.6L1937.9 595.6L1939 593.9L1940.1 591L1941.3 589.9L1942.5 586.3L1943.8 587L1945 584.9L1946.7 584.2L1948.5 582.4L1950.4 580.1L1952.3 578.2L1954.1 580L1955.9 577.1L1957.5 577.9L1959.2 577.7L1960.8 578.1L1962.3 580.4L1963.7 582.4L1965 582.1L1966.3 585.5L1966.9 585.7L1967.5 588L1968.1 589.1L1968.6 590.2L1969.1 592L1969.6 594.1L1970.1 598.2L1970.6 599L1971.1 600.3L1971.6 604.5L1972 606.9L1972.5 607.3L1972.9 608.3L1973.3 610.3L1973.7 612L1974 614.8L1974.4 616.1L1974.7 618.7L1975.1 620.8L1975.4 623.9L1975.8 626.9L1976.1 628.5L1976.5 629.4L1976.8 631.3L1977.1 633.4L1977.5 634.6L1978.1 637L1978.6 638.5L1979.2 641.5L1979.8 645.7L1980.4 645.2L1980.9 648.2L1981.5 650.2L1982 652.4L1982.5 651.6L1984.4 654.5L1986.3 653.7L1987.2 653.3L1988.2 652.1L1989.2 651.8L1990.3 649.1L1991.3 646.1L1991.7 642.2L1992.1 640.7L1992.5 641L1992.8 639.8L1993.2 636.7L1993.6 635L1994 631.3L1994.4 630.4L1994.8 629.8L1995.1 627.4L1995.5 625.3L1995.9 623.5L1996.3 619.2L1996.6 616.9L1996.9 615L1997.2 614L1997.5 612.3L1997.8 610.9L1998.1 608L1998.4 605.5L1998.7 603.7L1999 600.6L1999.4 598.8L1999.7 595.2L2000.1 595.6L2000.4 592.2L2000.9 592.7L2001.3 590.4L2002.5 586.7L2003.9 584.4L2005.4 583.6L2007 583.8L2008.5 583.1L2010 580.1L2011.5 578.6L2013 578.7L2014.5 577.5L2016 575.6L2017.4 573.5L2018.8 572.8L2019.8 569.5L2020.8 568.6L2021.8 567.2L2022.7 566.8L2023.6 563.8L2024.5 562.5L2025.4 559.3L2026.3 556.7L2027.1 554.8L2027.9 555L2028.6 552.2L2029.2 549L2030 546.1L2030.7 545.7L2031.6 544.5L2032.5 542.3L2033.9 540L2035.5 539.8L2037.1 539.3L2038.8 536.1L2040.6 534.5L2042.5 534.5L2044.2 534L2046 534.1L2047.8 532.1L2049.7 533.4L2051.5 532.8L2053.3 531.7L2055 530.4L2057.1 532.3L2058.9 530L2060.8 531.3L2062.7 529.5L2065 529.7L2066.6 531.5L2068.4 530.3L2070.3 532.6L2072.2 531.6L2074.2 531.2L2076.1 531.9L2078.1 533.3L2080 535L2081.5 536.8L2083 535.6L2084.5 537.6L2086 538.5L2087.5 542.2L2089 541.2L2090.5 542.4L2092 543.8L2093.5 546.1L2095 548.7L2096.9 549.8L2098.8 550.4L2100.7 552.1L2102.7 552.7L2104.6 551.7L2106.4 552.1L2108.2 555.3L2110 555.7L2111.7 554.7L2113.4 557.8L2115.1 558.2L2116.7 559.5L2118.3 560.6L2119.8 561.4L2121.2 562.2L2122.5 564.3L2124.1 566.1L2125.4 569.3L2126.6 568.2L2127.8 572.3L2128.9 571.9L2130 574.6L2130.7 577.5L2131.4 579.2L2132.1 579.9L2132.7 580.7L2133.4 584L2134 585.8L2134.6 589.6L2135.2 589.6L2135.8 592.3L2136.3 596.2L2136.7 595.3L2137 598.2L2137.3 601.1L2137.6 602.6L2137.9 602.2L2138.2 603.9L2138.4 605.9L2138.7 610.3L2138.9 610.3L2139.2 613.8L2139.5 616.5L2139.7 617.1L2140 619.3L2140.2 623L2140.4 623.7L2140.6 624.5L2140.8 627.7L2140.9 628.4L2141.1 630.2L2141.3 631.4L2141.5 635.7L2141.7 638.2L2141.9 639.5L2142.1 642.5L2142.3 641.9L2142.5 644.6L2142.7 647.5L2142.9 651L2143 653.1L2143.2 653.5L2143.4 655.2L2143.6 657.8L2143.8 660L2144 663.3L2144.2 663.1L2144.4 667L2144.5 668.8L2144.7 671.1L2144.9 673L2145.1 674.5L2145.3 675.7L2145.5 677.7L2145.7 679.9L2145.8 683.2L2146 683.1L2146.2 685.5L2146.4 689.1L2146.6 689.6L2146.8 691L2146.9 692.9L2147.1 696.4L2147.3 697.6L2147.5 701.4L2147.7 703.2L2147.9 705.7L2148.1 705.6L2148.3 707.2L2148.6 709.4L2148.8 712.7L2149 715.4L2149.2 716.7L2149.4 718.1L2149.6 720.7L2149.9 723.3L2150.1 725.3L2150.3 727.4L2150.5 729.5L2150.7 730.7L2150.9 730.8L2151.1 734.5L2151.3 734.4L2151.7 738.1L2152 740.2L2152.3 743.9L2152.6 744.6L2152.9 746.8L2153.2 748.6L2153.6 749.8L2154 753L2154.5 752.7L2155.5 752L2156.6 751.4L2157.9 751.5L2159.1 747.8L2160.3 744.4L2161.3 743.4L2161.8 741.4L2162.2 740.8L2162.5 736.4L2162.9 735.7L2163.2 734.8L2163.5 732.8L2163.8 730.9L2164.1 726L2164.4 724.4L2164.7 721.4L2165 719.1L2165.2 719.8L2165.4 716.9L2165.6 716.2L2165.8 712.8L2166 712.4L2166.2 709.3L2166.5 706.8L2166.7 706.4L2166.9 704.9L2167.1 700.4L2167.3 699.8L2167.5 697.9L2167.7 694.6L2167.9 693L2168.1 690.2L2168.4 688.3L2168.6 686.4L2168.8 685.3L2169 683.5L2169.2 680.2L2169.4 677.6L2169.6 676.4L2169.8 675.3L2170 671.6L2170.2 669.8L2170.4 667.3L2170.6 666.8L2170.8 663.9L2171 660.3L2171.2 658.2L2171.4 657L2171.6 655.5L2171.8 653.8L2172.1 650.3L2172.3 648.7L2172.5 648.6L2172.8 646.2L2173 644.3L2173.7 641.4L2174.4 641L2175.1 637.2L2175.8 636.4L2176.6 634.5L2177.4 633.3L2178.1 633L2178.8 631.5L2179.3 627.8L2179.9 625.5L2180.4 625.2L2181 621.8L2181.5 619.2L2182 619.9L2182.5 616.4L2183 615.4L2183.4 612L2183.8 611.1L2184.1 608L2184.3 605.2L2184.5 602.7L2184.7 602.2L2184.9 600.3L2185 598.9L2185.2 594.2L2185.3 593.7L2185.5 590.9L2185.7 589.2L2185.9 586.3L2186.1 584.9L2186.3 584.1L2186.8 582.6L2187.5 577.8L2188.1 576.8L2188.8 575.9L2189.4 574.8L2189.9 571.2L2190.3 571" clip-path="url(#cr)"/></g><g fill="none" stroke="#008080" stroke-width="12.0" stroke-linejoin="round" stroke-linecap="round"><path d="M212.4 481 L212.4 140 L230 140" clip-path="url(#cl)" /><path d="M205 140C206.7 140 207.5 140 215 140C222.5 140 242.9 139.7 250 140C257.1 140.3 251.2 141.6 257.5 142C263.8 142.4 281.2 142.2 287.5 142.5C293.8 142.8 290 143.9 295 143.8C300 143.7 308.3 141.7 317.5 142C326.7 142.3 341.2 143.9 350 145.5C358.8 147.1 362.9 150.3 370 151.3C377.1 152.3 385 149.2 392.5 151.3C400 153.4 407.5 160.2 415 163.8C422.5 167.4 427.5 169.8 437.5 173C447.5 176.2 462.5 179.3 475 183C487.5 186.7 502.1 191.8 512.5 195C522.9 198.2 530 200.4 537.5 202C545 203.6 550.4 204.2 557.5 204.3C564.6 204.4 568.8 204.1 580 202.5C591.2 200.9 609.2 197.1 625 195C640.8 192.9 658.7 191.6 675 190C691.3 188.4 710 187.6 723 185.5C736 183.4 743 180.4 753 177.5C763 174.6 772.2 170.6 783 168C793.8 165.4 808.4 162.8 818 161.8C827.6 160.8 835.5 161.1 840.5 161.8C845.5 162.6 845.8 164.9 848 166.3C850.2 167.7 851.7 169.6 854 170C856.3 170.4 859.5 170.5 861.8 168.8C864.1 167.1 864.5 162.4 868 160C871.5 157.6 878.8 155.1 883 154.5C887.2 153.9 890.1 155.7 893 156.3C895.9 156.9 898 158.2 900.5 158C903 157.8 905.5 156.4 908 155C910.5 153.6 910.5 150.8 915.5 149.5C920.5 148.2 926.3 147.8 938 147C949.7 146.2 967.2 145.2 985.5 144.5C1003.8 143.8 1027.2 143.4 1048 143C1068.8 142.6 1089.7 142.1 1110.5 141.8C1131.3 141.6 1160.8 141.5 1173 141.5C1185.2 141.5 1182.2 141.8 1184 141.8C1184 143.7 1184 151.1 1184 153" clip-path="url(#cl)"/><path d="M1219.5 147C1220.2 146.5 1223.2 144.3 1224 143.8C1225 143.7 1221.5 143.3 1230 143C1238.5 142.7 1259.2 142.2 1275 142C1290.8 141.8 1308.3 141.7 1325 142C1341.7 142.3 1358.3 143.6 1375 143.8C1391.7 144 1410.4 143.7 1425 143.3C1439.6 142.9 1450.8 141.9 1462.5 141.3C1474.2 140.8 1484.6 140 1495 140C1505.4 140 1517.1 140.5 1525 141.3C1532.9 142.1 1537.5 143.2 1542.5 145C1547.5 146.8 1551.9 150.5 1555 152C1558.1 153.5 1558.7 153.8 1561 153.8C1563.3 153.8 1565.6 153.7 1568.8 152C1572 150.3 1574.8 145.8 1580 143.8C1585.2 141.8 1590.4 140.6 1600 140C1609.6 139.4 1630 139.4 1637.5 140C1645 140.6 1640.8 143 1645 143.8C1649.2 144.6 1657.9 144 1662.5 145C1667.1 146 1668.8 149.2 1672.5 150C1676.2 150.8 1681.9 150.8 1685 150C1688.1 149.2 1688.1 146.3 1691 145.5C1693.9 144.7 1698.1 144.7 1702.5 145C1706.9 145.3 1712.5 145.8 1717.5 147.5C1722.5 149.2 1727.9 152.1 1732.5 155C1737.1 157.9 1742.2 161.2 1745 165C1747.8 168.8 1747.5 173 1749 178C1750.5 183 1752.4 188 1753.8 195C1755.2 202 1755.9 211.7 1757.3 220C1758.7 228.3 1760.6 237.1 1762.3 245C1764 252.9 1765.2 260 1767.3 267.5C1769.4 275 1772.1 283.3 1774.8 290C1777.5 296.7 1780.4 301.7 1783.5 307.5C1786.6 313.3 1789.8 319.6 1793.5 325C1797.2 330.4 1802.5 335.4 1806 340C1809.5 344.6 1812.3 347.9 1814.8 352.5C1817.3 357.1 1818.9 362.5 1821 367.5C1823.1 372.5 1825.8 377.9 1827.3 382.5C1828.8 387.1 1828.4 392.3 1829.8 395C1831.2 397.7 1833.4 399.2 1835.5 398.8C1837.6 398.4 1840.8 396.1 1842.5 392.5C1844.2 388.9 1844.2 382.9 1845.5 377.5C1846.8 372.1 1848.4 366.2 1850 360C1851.6 353.8 1853.5 348.3 1855 340C1856.5 331.7 1857.3 320.8 1858.8 310C1860.3 299.2 1862.1 286.7 1863.8 275C1865.5 263.3 1867.1 250.8 1868.8 240C1870.5 229.2 1872.1 218.8 1873.8 210C1875.5 201.2 1877.4 193.3 1878.8 187.5C1880.2 181.7 1880.5 177.5 1882 175C1883.5 172.5 1885.5 171.9 1887.5 172.5C1889.5 173.1 1891.5 175.7 1893.8 178.8C1896.1 181.9 1898.6 188.1 1901.3 191.3C1904 194.5 1906.9 196.9 1910 198C1913.1 199.1 1917.3 199.3 1920 198C1922.7 196.7 1924.2 193.6 1926.3 190C1928.4 186.4 1929.8 180.9 1932.5 176.3C1935.2 171.7 1939.2 166.5 1942.5 162.5C1945.8 158.5 1949.8 154.5 1952.5 152.5C1955.2 150.5 1956.7 150.3 1958.8 150.5C1960.9 150.7 1962.9 151.4 1965 153.8C1967.1 156.2 1969.2 160.6 1971.3 165C1973.4 169.4 1975.2 176.2 1977.5 180C1979.8 183.8 1982.7 187.1 1985 187.5C1987.3 187.9 1989.2 185.8 1991.3 182.5C1993.4 179.2 1995.6 172.3 1997.5 167.5C1999.4 162.7 2000 156.9 2002.5 153.8C2005 150.7 2009.2 150.5 2012.5 148.8C2015.8 147.1 2019 145.7 2022.5 143.8C2026 141.9 2028.4 138.8 2033.8 137.5C2039.2 136.2 2047.7 136 2055 136.3C2062.3 136.6 2071.7 138.2 2077.5 139.5C2083.3 140.8 2086.2 142.2 2090 143.8C2093.8 145.4 2096.7 147.7 2100 148.8C2103.3 149.9 2106.2 150.1 2110 150.5C2113.8 150.9 2118.9 149.7 2122.5 151.3C2126.1 152.9 2128.8 156.1 2131.3 160C2133.8 163.9 2135.8 168.8 2137.5 175C2139.2 181.2 2139.8 187.5 2141.3 197.5C2142.8 207.5 2144.6 225 2146.3 235C2148 245 2149.9 252.8 2151.3 257.5C2152.8 262.2 2153.6 263 2155 263C2156.4 263 2158.3 262.2 2160 257.5C2161.7 252.8 2163.3 242.9 2165 235C2166.7 227.1 2168.3 218.3 2170 210C2171.7 201.7 2173.3 191.2 2175 185C2176.7 178.8 2178.1 176.7 2180 172.5C2181.9 168.3 2184.8 165.9 2186.3 160C2187.8 154.1 2188.1 142.8 2188.8 137C2189.5 131.2 2190.1 127 2190.4 125" clip-path="url(#cr)"/></g>
<g fill="none" stroke="#000" stroke-width="12" stroke-linecap="round">
<path d="M1166.4 80.9 L1201.2 23 M1201.2 80.9 L1235.4 23"/>
<path d="M1166.4 1687.9 L1201.4 1631.1 M1201.2 1687.9 L1235.6 1631.1"/>
</g>
<g font-family="'Liberation Serif','Times New Roman',serif" font-size="85" fill="#000" text-anchor="middle">
<text x="212" y="1770.5">4000</text><text x="451.9" y="1770.5">3600</text><text x="691.8" y="1770.5">3200</text><text x="931.8" y="1770.5">2800</text><text x="1171.7" y="1770.5">2400</text><text x="1371.8" y="1770.5">2000</text><text x="1576.6" y="1770.5">1600</text><text x="1781.4" y="1770.5">1200</text><text x="1986.2" y="1770.5">800</text><text x="2191" y="1770.5">400</text>
</g>
<g font-family="'Liberation Serif','Times New Roman',serif" font-size="82" fill="#000" text-anchor="middle">
<text x="322" y="130">d</text>
<text x="321" y="508.8">c</text>
<text x="321.5" y="896">b</text>
<text x="321.5" y="1366.3">a</text>
</g>
<g font-family="'Liberation Serif','Times New Roman',serif" font-weight="bold" fill="#000" style="font-kerning:none">
<text id="x1" x="757" y="1890.6" font-size="104" textLength="598.8" lengthAdjust="spacingAndGlyphs">Wavenumber</text>
<text id="x2" x="1378" y="1889.7" font-size="89.3">(</text>
<text id="x3" x="1408" y="1890.6" font-size="104" textLength="130.5" lengthAdjust="spacingAndGlyphs">cm</text>
<text id="x4" x="1538" y="1850.9" font-size="50.4">-1</text>
<text id="x5" x="1580" y="1889.7" font-size="89.3">)</text>
<text id="yt" transform="translate(95.2 1374) rotate(-90)" font-size="104">Transmittance (a.u.)</text>
</g>
</svg>
</body></html>
